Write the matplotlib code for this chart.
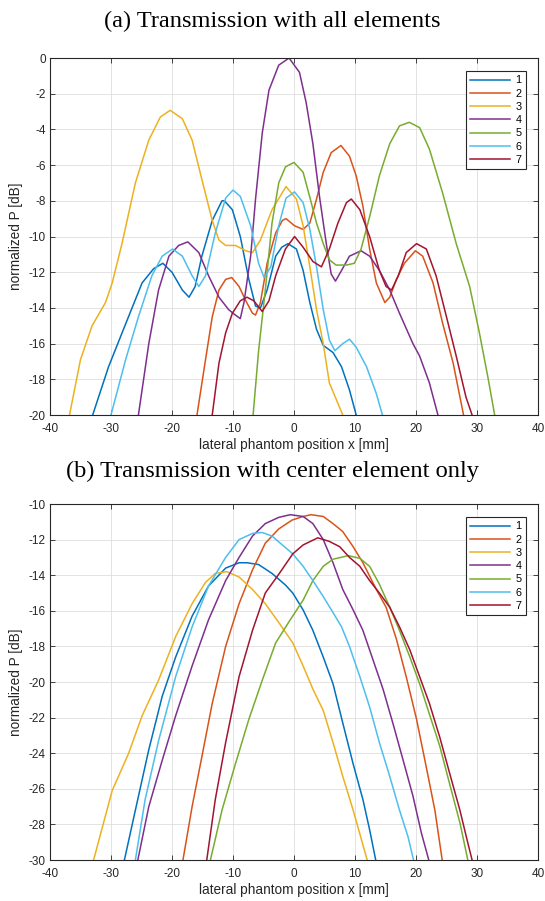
import matplotlib.pyplot as plt

plt.rcParams["axes.unicode_minus"] = False
plt.rcParams["font.family"] = ["Liberation Sans", "DejaVu Sans"]

# MATLAB default line colours
colors = ["#0072BD", "#D95319", "#EDB120", "#7E2F8E", "#77AC30", "#4DBEEE", "#A2142F"]
labels = ["1", "2", "3", "4", "5", "6", "7"]

# (a) transmission with all elements: x [mm], normalized P [dB]
a1_x = [-33.0, -30.4, -27.6, -24.9, -23.0, -21.5, -20.0, -18.3, -17.2, -16.2, -15.1, -13.4, -11.8, -11.4,
        -10.1, -8.8, -7.4, -6.3, -5.5, -4.4, -3.0, -2.0, -1.0, 0.4, 1.5, 2.6, 3.7, 4.8, 6.4, 7.8, 9.1, 10.2]
a1_y = [-20.0, -17.3, -14.9, -12.6, -11.8, -11.5, -12.0, -13.0, -13.4, -12.8, -11.1, -9.1, -8.0, -8.0,
        -8.5, -10.0, -12.4, -13.9, -14.0, -13.0, -11.1, -10.6, -10.4, -10.7, -11.9, -13.7, -15.2, -16.1,
        -16.5, -17.3, -18.6, -20.0]

a2_x = [-15.9, -14.5, -13.4, -12.3, -11.2, -10.2, -9.0, -7.9, -6.8, -6.3, -5.5, -4.4, -3.0, -1.9, -1.3,
        0.1, 1.5, 2.6, 3.7, 4.8, 6.1, 7.7, 9.1, 10.2, 11.3, 12.4, 13.5, 14.9, 15.7, 16.8, 18.1, 19.9, 21.1,
        22.8, 24.4, 26.1, 27.8]
a2_y = [-20.0, -16.9, -14.5, -13.0, -12.4, -12.3, -12.8, -13.6, -14.3, -14.4, -13.7, -11.5, -9.8, -9.1,
        -9.0, -9.4, -9.6, -9.25, -7.9, -6.4, -5.3, -4.9, -5.5, -6.6, -8.3, -10.7, -12.6, -13.7, -13.4,
        -12.4, -11.5, -10.8, -11.1, -12.6, -14.9, -17.1, -20.0]

a3_x = [-36.8, -35.0, -33.1, -30.9, -29.8, -28.2, -26.0, -23.8, -21.9, -20.3, -18.3, -16.7, -15.1, -13.4,
        -12.3, -11.2, -9.6, -7.9, -6.8, -5.5, -3.6, -1.3, 0.4, 1.5, 2.6, 3.7, 4.8, 5.8, 8.0]
a3_y = [-20.0, -16.9, -15.0, -13.7, -12.6, -10.4, -7.0, -4.6, -3.3, -2.93, -3.4, -4.6, -6.8, -9.1, -10.2,
        -10.5, -10.5, -10.8, -10.9, -10.2, -8.5, -7.2, -7.9, -9.4, -11.7, -14.1, -16.0, -18.2, -20.0]

a4_x = [-25.5, -23.8, -22.2, -20.5, -18.9, -17.4, -15.6, -14.0, -12.3, -10.7, -9.6, -8.8, -8.2, -7.1, -6.3,
        -5.2, -4.1, -2.5, -0.8, 0.9, 2.0, 3.1, 4.2, 5.3, 6.1, 6.8, 7.8, 9.1, 11.0, 12.4, 14.0, 15.7, 17.3,
        19.5, 20.6, 22.2, 23.6]
a4_y = [-20.0, -16.0, -13.0, -11.1, -10.5, -10.3, -10.9, -12.2, -13.4, -14.1, -14.4, -14.6, -13.7, -11.1,
        -7.9, -4.2, -1.8, -0.4, 0.0, -0.8, -2.5, -4.8, -7.8, -10.4, -12.1, -12.5, -11.9, -11.1, -10.8,
        -11.1, -11.9, -13.0, -14.3, -16.0, -16.7, -18.2, -20.0]

a5_x = [-6.7, -5.8, -4.7, -3.6, -2.5, -1.4, 0.0, 1.5, 2.6, 3.7, 4.8, 5.8, 6.9, 8.6, 9.9, 11.0, 12.4, 14.0,
        15.7, 17.3, 18.9, 20.6, 22.2, 24.4, 26.6, 28.8, 30.4, 31.8, 32.9]
a5_y = [-20.0, -16.4, -13.0, -9.25, -7.0, -6.1, -5.85, -6.4, -7.8, -9.25, -10.4, -11.3, -11.6, -11.6,
        -11.5, -10.7, -8.9, -6.6, -4.8, -3.8, -3.6, -3.9, -5.1, -7.6, -10.4, -12.8, -15.4, -17.9, -20.0]

a6_x = [-30.0, -27.6, -25.5, -23.3, -21.6, -19.9, -18.3, -16.7, -15.6, -14.5, -12.9, -11.2, -10.0, -8.8,
        -7.1, -5.8, -4.9, -3.8, -2.5, -1.3, 0.1, 1.5, 2.6, 3.7, 4.8, 5.8, 6.7, 8.0, 9.1, 10.2, 11.9, 13.5,
        14.5]
a6_y = [-20.0, -16.9, -14.5, -12.2, -11.1, -10.7, -11.1, -12.2, -12.8, -12.2, -9.8, -7.85, -7.4, -7.75,
        -9.4, -11.5, -12.3, -11.7, -9.4, -7.85, -7.5, -8.1, -9.6, -11.7, -14.1, -15.8, -16.4, -16.0,
        -15.75, -16.2, -17.3, -18.8, -20.0]

a7_x = [-13.4, -12.3, -11.2, -10.1, -8.8, -7.7, -6.6, -5.2, -4.1, -3.0, -1.4, 0.1, 1.5, 3.1, 4.5, 5.8, 7.2,
        8.6, 9.4, 10.8, 12.4, 14.0, 15.1, 16.0, 17.1, 18.4, 20.1, 21.7, 23.3, 25.0, 26.6, 28.2, 29.2]
a7_y = [-20.0, -17.1, -15.4, -14.3, -13.6, -13.4, -13.6, -14.2, -13.6, -12.2, -10.7, -10.0, -10.6, -11.4,
        -11.7, -10.7, -9.25, -8.1, -7.9, -8.5, -10.0, -11.9, -12.8, -13.0, -12.2, -10.9, -10.4, -10.7,
        -12.2, -14.5, -16.7, -19.0, -20.0]

# (b) transmission with center element only
b1_x = [-27.8, -26.0, -23.8, -21.6, -19.4, -16.7, -14.0, -11.2, -9.0, -7.7, -5.8, -3.6, -1.4, -0.2, 1.5,
        3.1, 4.8, 6.4, 8.0, 9.7, 11.3, 12.4, 13.4]
b1_y = [-30.0, -27.2, -23.8, -20.8, -18.6, -16.3, -14.6, -13.6, -13.3, -13.3, -13.4, -13.9, -14.55,
        -15.0, -15.95, -17.1, -18.6, -20.1, -22.3, -24.6, -26.6, -28.3, -30.0]

b2_x = [-18.2, -16.7, -15.1, -13.4, -11.2, -9.0, -6.8, -4.7, -2.5, -0.3, 1.5, 2.8, 4.8, 6.4, 8.0, 9.7,
        11.3, 13.5, 15.1, 16.8, 18.4, 20.1, 21.7, 23.1, 24.3]
b2_y = [-30.0, -27.0, -24.2, -21.2, -18.0, -15.6, -13.7, -12.2, -11.4, -10.9, -10.7, -10.6, -10.7, -11.1,
        -11.55, -12.4, -13.3, -14.8, -15.8, -17.6, -19.7, -22.1, -24.8, -27.2, -30.0]

b3_x = [-32.85, -29.8, -27.1, -24.9, -22.2, -19.4, -16.7, -14.5, -12.9, -11.0, -9.0, -6.8, -4.7, -2.4,
        -0.2, 1.5, 3.1, 4.8, 6.4, 8.0, 9.7, 12.0]
b3_y = [-30.0, -26.1, -24.0, -21.9, -19.9, -17.45, -15.6, -14.4, -13.9, -13.8, -14.1, -14.8, -15.6, -16.7,
        -17.8, -19.1, -20.4, -21.6, -23.4, -25.3, -27.2, -30.0]

b4_x = [-25.6, -23.8, -21.6, -19.4, -16.7, -14.0, -11.2, -9.0, -6.8, -4.7, -2.5, -0.6, 1.5, 3.1, 4.8, 6.4,
        8.0, 9.7, 11.3, 13.0, 14.6, 16.2, 17.9, 19.5, 20.9, 22.1]
b4_y = [-30.0, -27.0, -24.4, -21.9, -19.1, -16.5, -14.3, -13.0, -11.8, -11.1, -10.75, -10.6, -10.7, -11.1,
        -12.0, -13.3, -14.8, -15.95, -17.1, -18.8, -20.4, -22.3, -24.4, -26.4, -28.5, -30.0]

b5_x = [-13.7, -11.8, -9.6, -7.4, -5.2, -3.0, -0.6, 1.5, 3.1, 4.8, 6.4, 8.9, 10.8, 12.4, 14.0, 15.7, 17.3,
        19.0, 20.6, 22.2, 23.9, 25.5, 27.2, 28.5]
b5_y = [-30.0, -27.2, -24.6, -22.1, -19.9, -17.8, -16.5, -15.4, -14.3, -13.5, -13.1, -12.9, -13.05, -13.5,
        -14.5, -15.8, -17.1, -18.6, -20.1, -21.8, -23.6, -25.7, -27.9, -30.0]

b6_x = [-26.0, -24.4, -22.2, -19.4, -16.7, -14.0, -11.2, -9.0, -6.8, -5.2, -3.6, -1.9, -0.2, 1.5, 3.1, 4.8,
        6.4, 7.8, 9.1, 10.8, 12.4, 14.0, 15.7, 17.3, 18.7, 19.6]
b6_y = [-30.0, -26.6, -23.3, -19.7, -16.9, -14.6, -13.0, -12.0, -11.65, -11.6, -11.8, -12.3, -12.8, -13.5,
        -14.3, -15.2, -16.1, -16.9, -18.0, -19.7, -21.4, -23.4, -25.3, -27.2, -28.7, -30.0]

b7_x = [-14.3, -12.9, -11.2, -9.0, -6.8, -4.7, -2.4, -0.2, 1.5, 3.9, 5.8, 7.5, 9.1, 10.8, 12.4, 14.0, 15.7,
        17.3, 19.0, 20.6, 22.2, 23.9, 25.5, 27.2, 28.4, 29.2]
b7_y = [-30.0, -26.6, -23.4, -19.7, -17.1, -15.0, -13.9, -12.8, -12.3, -11.9, -12.1, -12.4, -13.0, -13.5,
        -14.3, -15.0, -15.8, -16.9, -18.2, -19.7, -21.2, -23.1, -25.1, -27.2, -28.9, -30.0]

series_a = [(a1_x, a1_y), (a2_x, a2_y), (a3_x, a3_y), (a4_x, a4_y), (a5_x, a5_y), (a6_x, a6_y), (a7_x, a7_y)]
series_b = [(b1_x, b1_y), (b2_x, b2_y), (b3_x, b3_y), (b4_x, b4_y), (b5_x, b5_y), (b6_x, b6_y), (b7_x, b7_y)]


def style_axes(ax, ylim, yticks):
    ax.set_xlim(-40, 40)
    ax.set_ylim(*ylim)
    ax.set_xticks(range(-40, 41, 10))
    ax.set_yticks(yticks)
    ax.grid(True, color="#dedede", linewidth=0.6)
    ax.set_axisbelow(True)
    ax.tick_params(direction="in", top=True, right=True, length=3.5, width=0.6,
                   labelsize=8.5, colors="#262626")
    ax.tick_params(axis="x", pad=5.5)
    ax.tick_params(axis="y", pad=3)
    for sp in ax.spines.values():
        sp.set_color("#262626")
        sp.set_linewidth(0.8)
    ax.set_xlabel("lateral phantom position x [mm]", fontsize=9.8, color="#262626", labelpad=2.5)
    ax.set_ylabel("normalized P [dB]", fontsize=9.8, color="#262626", labelpad=4)
    leg = ax.legend(loc="upper right", bbox_to_anchor=(0.975, 0.9636), borderaxespad=0,
                    fontsize=7.8, handlelength=3.7, labelspacing=0.3, handletextpad=0.45,
                    borderpad=0.4, fancybox=False, framealpha=1, edgecolor="#262626")
    leg.get_frame().set_linewidth(0.8)


fig = plt.figure(figsize=(5.45, 9.01), dpi=100)
ax_a = fig.add_axes([0.0917, 0.5394, 0.8954, 0.3962])
ax_b = fig.add_axes([0.0917, 0.0455, 0.8954, 0.3951])

for (x, y), c, lab in zip(series_a, colors, labels):
    ax_a.plot(x, y, color=c, lw=1.1, label=lab)
for (x, y), c, lab in zip(series_b, colors, labels):
    ax_b.plot(x, y, color=c, lw=1.1, label=lab)

style_axes(ax_a, (-20, 0), range(-20, 1, 2))
style_axes(ax_b, (-30, -10), range(-30, -9, 2))

fig.text(0.5, 1 - 27 / 901, "(a) Transmission with all elements", ha="center", va="baseline",
         fontsize=17.6, family=["Liberation Serif", "DejaVu Serif"])
fig.text(0.5, 1 - 477 / 901, "(b) Transmission with center element only", ha="center", va="baseline",
         fontsize=17.6, family=["Liberation Serif", "DejaVu Serif"])

fig.savefig("out.png", dpi=100)
